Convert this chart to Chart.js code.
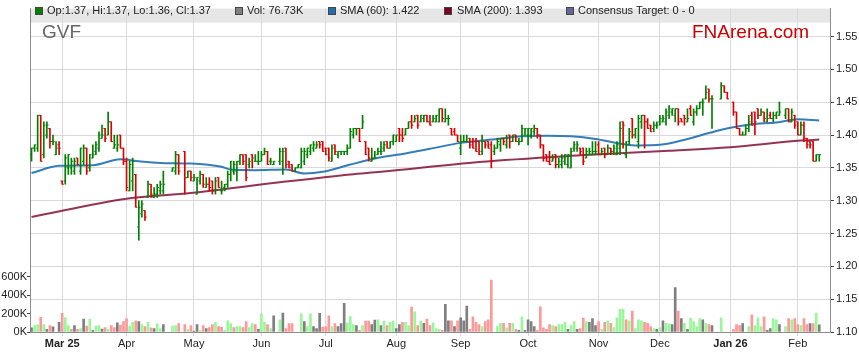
<!DOCTYPE html>
<html>
<head>
<meta charset="utf-8">
<script src="https://cdn.jsdelivr.net/npm/chart.js@4.4.1/dist/chart.umd.min.js"></script>
<style>
  body { margin: 0; background: #fff; }
  #wrap { position: relative; width: 859px; height: 363px; font-family: "Liberation Sans", Arial, sans-serif; }
  #chart { position: absolute; left: 0; top: 0; }
  .lg { position: absolute; top: 4.7px; font-size: 11px; line-height: 11px; color: #222; white-space: nowrap; }
  .box { position: absolute; top: 7px; width: 6px; height: 6px; border: 1px solid #444; }
  .big { position: absolute; top: 22px; font-size: 19px; line-height: 19px; white-space: nowrap; }
</style>
</head>
<body>
<div id="wrap">
  <canvas id="chart" width="859" height="363"></canvas>
  <div class="box" style="left:35px;background:#008000"></div><div class="lg" style="left:47px">Op:1.37, Hi:1.37, Lo:1.36, Cl:1.37</div>
  <div class="box" style="left:235px;background:#808080"></div><div class="lg" style="left:247px">Vol: 76.73K</div>
  <div class="box" style="left:328px;background:#1f6fb0"></div><div class="lg" style="left:340px">SMA (60): 1.422</div>
  <div class="box" style="left:444px;background:#800028"></div><div class="lg" style="left:457px">SMA (200): 1.393</div>
  <div class="box" style="left:566px;background:#666699"></div><div class="lg" style="left:578px">Consensus Target: 0 - 0</div>
  <div class="big" style="left:42px;color:#666">GVF</div>
  <div class="big" style="left:692px;color:#cc0000">FNArena.com</div>
</div>
<script>
const FONT = '"Liberation Sans", Arial, sans-serif';

// one slot per weekday, 17 Feb 2025 .. 16 Feb 2026 (holidays stay as empty slots)
const dates = [];
for (let d = new Date(Date.UTC(2025, 1, 17)); dates.length < 261; d.setUTCDate(d.getUTCDate() + 1)) {
    const wd = d.getUTCDay();
    if (wd !== 0 && wd !== 6) dates.push(d.toISOString().slice(0, 10));
}

const monthStarts = ['2025-03-03', '2025-04-01', '2025-05-01', '2025-06-02', '2025-07-01', '2025-08-01',
    '2025-09-01', '2025-10-01', '2025-11-03', '2025-12-01', '2026-01-01', '2026-02-02'];
const monthLabels = ['Mar 25', 'Apr', 'May', 'Jun', 'Jul', 'Aug', 'Sep', 'Oct', 'Nov', 'Dec', 'Jan 26', 'Feb'];

const priceTicks = [1.10, 1.15, 1.20, 1.25, 1.30, 1.35, 1.40, 1.45, 1.50, 1.55];
const volTicks = [0, 200000, 400000, 600000];

// daily OHLC (null = market closed)
const open = [
    1.37, 1.38, 1.38, 1.43, 1.37, 1.40, 1.41, 1.39, 1.37, 1.385,
    1.33, 1.33, 1.35, 1.35, 1.345, 1.365, 1.345, 1.36, 1.38, 1.35,
    1.365, 1.375, 1.38, 1.395, 1.41, 1.40, 1.42, 1.38, 1.38, 1.40,
    1.38, 1.36, 1.315, 1.33, 1.34, 1.26, 1.28, 1.285, 1.305, 1.325,
    1.305, 1.31, 1.315, 1.315, null, null, 1.345, 1.345, 1.37, null,
    1.375, 1.335, 1.345, 1.33, 1.31, 1.33, 1.34, 1.32, 1.325, 1.33,
    1.315, 1.335, 1.315, 1.32, 1.325, 1.34, 1.345, 1.345, 1.36, 1.37,
    1.37, 1.355, 1.37, 1.36, 1.36, 1.36, 1.37, 1.375, 1.36, 1.355,
    null, 1.36, 1.36, 1.38, 1.36, 1.355, 1.345, 1.35, 1.35, 1.36,
    1.37, 1.375, 1.38, 1.38, 1.39, 1.39, 1.38, 1.38, 1.36, 1.385,
    1.37, 1.375, 1.375, 1.375, 1.38, 1.40, 1.41, 1.41, 1.41, 1.39,
    1.38, 1.36, 1.365, 1.37, 1.375, 1.38, 1.39, 1.38, 1.39, 1.39,
    1.41, 1.40, 1.40, 1.41, 1.42, 1.42, 1.43, 1.42, 1.425, 1.43,
    1.42, 1.42, 1.42, 1.42, 1.44, 1.42, 1.425, 1.41, 1.405, 1.40,
    1.38, 1.39, 1.39, 1.395, 1.39, 1.39, 1.39, 1.375, 1.39, 1.39,
    1.385, 1.375, 1.38, 1.385, 1.395, 1.385, 1.40, 1.39, 1.40, 1.39,
    1.39, 1.40, 1.40, 1.40, 1.405, 1.41, 1.40, 1.385, 1.37, 1.36,
    1.36, 1.37, 1.355, 1.355, 1.36, 1.355, 1.35, 1.38, 1.38, 1.38,
    1.38, 1.365, 1.37, 1.37, 1.375, 1.385, 1.37, 1.38, 1.37, 1.38,
    1.375, 1.37, 1.38, 1.42, 1.37, 1.39, 1.425, 1.40, 1.39, 1.42,
    1.43, 1.42, 1.415, 1.41, 1.415, 1.42, 1.42, 1.42, 1.43, 1.435,
    1.43, 1.44, 1.425, 1.43, 1.42, 1.44, 1.42, 1.435, 1.44, 1.45,
    1.455, 1.47, 1.455, null, null, 1.455, 1.475, 1.465, null, 1.45,
    1.435, 1.41, 1.40, 1.40, 1.41, 1.43, 1.435, 1.44, 1.43, 1.435,
    1.42, 1.43, 1.425, 1.43, 1.43, null, 1.43, 1.44, 1.42, 1.43,
    1.42, 1.40, 1.415, 1.395, 1.39, 1.39, 1.36, 1.37
];
const high = [
    1.38, 1.385, 1.43, 1.43, 1.42, 1.42, 1.41, 1.40, 1.39, 1.39,
    1.33, 1.37, 1.37, 1.365, 1.365, 1.365, 1.38, 1.385, 1.38, 1.37,
    1.385, 1.39, 1.405, 1.415, 1.41, 1.435, 1.42, 1.40, 1.40, 1.40,
    1.38, 1.365, 1.36, 1.365, 1.34, 1.30, 1.30, 1.285, 1.33, 1.325,
    1.32, 1.325, 1.33, 1.345, null, null, 1.35, 1.375, 1.37, null,
    1.375, 1.345, 1.345, 1.34, 1.335, 1.345, 1.34, 1.335, 1.335, 1.33,
    1.335, 1.335, 1.33, 1.325, 1.345, 1.36, 1.36, 1.36, 1.37, 1.37,
    1.37, 1.365, 1.37, 1.37, 1.375, 1.375, 1.38, 1.375, 1.365, 1.36,
    null, 1.38, 1.38, 1.38, 1.36, 1.355, 1.35, 1.355, 1.38, 1.38,
    1.38, 1.385, 1.39, 1.39, 1.39, 1.39, 1.38, 1.38, 1.385, 1.385,
    1.375, 1.375, 1.375, 1.385, 1.41, 1.41, 1.41, 1.41, 1.43, 1.39,
    1.38, 1.38, 1.375, 1.38, 1.39, 1.39, 1.39, 1.39, 1.40, 1.40,
    1.41, 1.41, 1.41, 1.42, 1.43, 1.43, 1.43, 1.43, 1.43, 1.43,
    1.43, 1.43, 1.43, 1.44, 1.44, 1.44, 1.43, 1.41, 1.41, 1.40,
    1.40, 1.40, 1.40, 1.395, 1.395, 1.395, 1.39, 1.40, 1.39, 1.39,
    1.39, 1.385, 1.395, 1.395, 1.395, 1.40, 1.40, 1.40, 1.40, 1.395,
    1.415, 1.41, 1.41, 1.41, 1.415, 1.41, 1.40, 1.385, 1.37, 1.375,
    1.37, 1.37, 1.365, 1.37, 1.37, 1.37, 1.38, 1.39, 1.39, 1.38,
    1.38, 1.38, 1.38, 1.39, 1.39, 1.39, 1.38, 1.38, 1.385, 1.38,
    1.385, 1.39, 1.42, 1.42, 1.39, 1.41, 1.425, 1.41, 1.43, 1.43,
    1.43, 1.425, 1.415, 1.42, 1.42, 1.43, 1.43, 1.44, 1.445, 1.44,
    1.44, 1.44, 1.425, 1.43, 1.44, 1.445, 1.44, 1.445, 1.45, 1.455,
    1.475, 1.47, 1.46, null, null, 1.48, 1.475, 1.465, null, 1.45,
    1.435, 1.41, 1.405, 1.415, 1.43, 1.435, 1.435, 1.44, 1.44, 1.435,
    1.44, 1.435, 1.435, 1.435, 1.45, null, 1.44, 1.44, 1.44, 1.43,
    1.42, 1.42, 1.42, 1.395, 1.39, 1.39, 1.37, 1.37
];
const low = [
    1.36, 1.375, 1.375, 1.36, 1.365, 1.395, 1.38, 1.385, 1.37, 1.37,
    1.325, 1.325, 1.34, 1.34, 1.34, 1.355, 1.34, 1.355, 1.34, 1.345,
    1.365, 1.37, 1.375, 1.395, 1.39, 1.40, 1.39, 1.38, 1.375, 1.38,
    1.355, 1.315, 1.315, 1.315, 1.29, 1.24, 1.275, 1.27, 1.305, 1.305,
    1.305, 1.305, 1.31, 1.31, null, null, 1.345, 1.34, 1.34, null,
    1.31, 1.335, 1.33, 1.33, 1.31, 1.325, 1.32, 1.32, 1.315, 1.31,
    1.31, 1.32, 1.31, 1.315, 1.32, 1.33, 1.34, 1.33, 1.355, 1.355,
    1.33, 1.35, 1.35, 1.36, 1.355, 1.36, 1.37, 1.355, 1.355, 1.355,
    null, 1.355, 1.34, 1.35, 1.35, 1.345, 1.345, 1.35, 1.35, 1.355,
    1.365, 1.37, 1.375, 1.38, 1.38, 1.375, 1.37, 1.36, 1.36, 1.37,
    1.365, 1.37, 1.37, 1.37, 1.38, 1.395, 1.40, 1.39, 1.41, 1.37,
    1.36, 1.36, 1.365, 1.37, 1.37, 1.375, 1.38, 1.38, 1.385, 1.39,
    1.39, 1.39, 1.40, 1.41, 1.41, 1.42, 1.41, 1.42, 1.42, 1.42,
    1.415, 1.42, 1.42, 1.42, 1.42, 1.42, 1.415, 1.40, 1.40, 1.39,
    1.37, 1.39, 1.39, 1.38, 1.38, 1.375, 1.37, 1.37, 1.38, 1.38,
    1.35, 1.37, 1.38, 1.375, 1.385, 1.38, 1.38, 1.39, 1.39, 1.385,
    1.39, 1.40, 1.385, 1.395, 1.40, 1.395, 1.38, 1.36, 1.36, 1.355,
    1.36, 1.35, 1.35, 1.35, 1.355, 1.35, 1.35, 1.375, 1.375, 1.37,
    1.355, 1.365, 1.37, 1.37, 1.37, 1.37, 1.37, 1.365, 1.37, 1.37,
    1.37, 1.37, 1.37, 1.38, 1.365, 1.385, 1.395, 1.395, 1.38, 1.41,
    1.38, 1.41, 1.405, 1.405, 1.41, 1.415, 1.42, 1.415, 1.425, 1.43,
    1.42, 1.415, 1.42, 1.415, 1.42, 1.43, 1.415, 1.43, 1.44, 1.43,
    1.455, 1.45, 1.41, null, null, 1.455, 1.465, 1.455, null, 1.43,
    1.41, 1.40, 1.40, 1.40, 1.405, 1.415, 1.40, 1.425, 1.43, 1.42,
    1.42, 1.425, 1.42, 1.425, 1.43, null, 1.425, 1.42, 1.42, 1.41,
    1.40, 1.40, 1.39, 1.38, 1.38, 1.36, 1.36, 1.36
];
const close = [
    1.38, 1.385, 1.43, 1.36, 1.415, 1.415, 1.39, 1.39, 1.38, 1.38,
    1.325, 1.365, 1.37, 1.36, 1.36, 1.355, 1.38, 1.38, 1.345, 1.37,
    1.37, 1.385, 1.40, 1.40, 1.395, 1.42, 1.39, 1.385, 1.385, 1.38,
    1.36, 1.32, 1.355, 1.36, 1.29, 1.29, 1.295, 1.275, 1.325, 1.31,
    1.31, 1.32, 1.325, 1.325, null, null, 1.35, 1.37, 1.345, null,
    1.335, 1.345, 1.335, 1.335, 1.335, 1.34, 1.325, 1.325, 1.32, 1.315,
    1.33, 1.32, 1.315, 1.325, 1.34, 1.36, 1.355, 1.36, 1.37, 1.36,
    1.335, 1.36, 1.365, 1.36, 1.36, 1.37, 1.375, 1.355, 1.36, 1.36,
    null, 1.375, 1.375, 1.355, 1.35, 1.345, 1.35, 1.355, 1.375, 1.375,
    1.38, 1.385, 1.385, 1.385, 1.385, 1.375, 1.37, 1.365, 1.38, 1.375,
    1.375, 1.375, 1.375, 1.38, 1.405, 1.41, 1.41, 1.39, 1.42, 1.37,
    1.365, 1.365, 1.365, 1.375, 1.375, 1.385, 1.38, 1.39, 1.40, 1.40,
    1.40, 1.395, 1.41, 1.42, 1.415, 1.425, 1.415, 1.43, 1.43, 1.42,
    1.415, 1.425, 1.43, 1.44, 1.425, 1.425, 1.425, 1.40, 1.40, 1.39,
    1.39, 1.39, 1.39, 1.385, 1.38, 1.375, 1.37, 1.39, 1.385, 1.38,
    1.36, 1.38, 1.39, 1.395, 1.39, 1.395, 1.39, 1.40, 1.39, 1.39,
    1.41, 1.41, 1.41, 1.41, 1.41, 1.40, 1.385, 1.365, 1.36, 1.355,
    1.365, 1.355, 1.36, 1.365, 1.37, 1.37, 1.375, 1.385, 1.385, 1.375,
    1.36, 1.375, 1.375, 1.375, 1.375, 1.37, 1.375, 1.37, 1.38, 1.375,
    1.38, 1.385, 1.41, 1.415, 1.385, 1.405, 1.40, 1.41, 1.425, 1.43,
    1.42, 1.41, 1.405, 1.415, 1.415, 1.425, 1.425, 1.435, 1.44, 1.44,
    1.44, 1.42, 1.42, 1.425, 1.425, 1.43, 1.435, 1.44, 1.45, 1.45,
    1.465, 1.455, 1.455, null, null, 1.475, 1.465, 1.455, null, 1.435,
    1.41, 1.40, 1.40, 1.41, 1.42, 1.415, 1.42, 1.43, 1.435, 1.425,
    1.425, 1.425, 1.43, 1.435, 1.435, null, 1.44, 1.42, 1.435, 1.415,
    1.40, 1.415, 1.395, 1.385, 1.385, 1.36, 1.37, 1.37
];
const volume = [
    45000, 70000, 80000, 160000, 80000, 28000, 70000, 56000, null, 105000,
    203000, 157000, 70000, 28000, 70000, 28000, 38000, 140000, 63000, 140000,
    18000, 63000, 70000, 32000, 49000, 32000, 70000, 49000, 100000, 74000,
    112000, 144000, 63000, 105000, 122000, 112000, 80000, 60000, 105000, 45000,
    38000, 88000, 38000, 80000, null, null, 63000, 70000, 91000, null,
    80000, 28000, 70000, 10000, 80000, 21000, 70000, 38000, 49000, 80000,
    105000, 60000, 52000, 18000, 122000, 91000, 49000, 60000, 60000, 49000,
    112000, 49000, 91000, 80000, 28000, 196000, 105000, 80000, 38000, 175000,
    null, 133000, 206000, 38000, 91000, 91000, null, null, 196000, 112000,
    60000, 196000, 60000, 38000, 203000, 52000, 60000, 175000, 60000, 91000,
    60000, 91000, 311000, 100000, 168000, 80000, 70000, 18000, 70000, 119000,
    119000, 80000, 130000, 133000, 70000, 119000, 70000, 105000, 119000, 38000,
    80000, 105000, 105000, 70000, 270000, 217000, 70000, 119000, 95000, 140000,
    70000, 98000, 38000, 28000, 18000, 300000, 122000, 122000, 60000, 122000,
    154000, 122000, 280000, 28000, 164000, 105000, 80000, 60000, 112000, 133000,
    563000, null, 60000, 95000, 95000, 45000, 95000, 95000, 28000, 18000,
    164000, 18000, 133000, 112000, 60000, 18000, 273000, 45000, 28000, 80000,
    70000, 60000, 80000, 80000, 105000, 28000, 70000, 112000, 28000, 38000,
    150000, 112000, 105000, 144000, 70000, 112000, 28000, 105000, 122000, 95000,
    49000, 154000, 245000, 245000, 133000, 122000, 227000, 38000, 133000, 122000,
    105000, 95000, 60000, 38000, 28000, 49000, 122000, 95000, 88000, 80000,
    480000, 227000, 144000, 95000, 28000, 150000, 112000, 60000, 144000, 133000,
    95000, 80000, 70000, null, null, 154000, null, null, null, 28000,
    80000, 70000, 91000, null, 60000, 186000, 70000, 154000, 60000, 164000,
    18000, 38000, 144000, 133000, 80000, null, 60000, 144000, 133000, 144000,
    80000, 70000, 144000, 80000, 91000, 91000, 206000, 77000
];

// moving averages at sample slots
const sma60Slots = [0, 9, 20, 29, 35, 42, 52, 62, 65, 73, 83, 89, 95, 104, 114, 122, 130, 140, 152, 160,
    168, 176, 184, 192, 198, 205, 214, 221, 228, 235, 243, 250, 257];
const sma60Vals = [1.342, 1.353, 1.354, 1.363, 1.360, 1.3575, 1.3565, 1.3515, 1.3475, 1.3465, 1.3475, 1.3415,
    1.344, 1.355, 1.366, 1.372, 1.379, 1.388, 1.394, 1.398, 1.399, 1.398, 1.394, 1.387, 1.384, 1.385,
    1.394, 1.403, 1.411, 1.4165, 1.419, 1.424, 1.422];
const sma200Slots = [0, 31, 52, 81, 104, 114, 146, 179, 208, 228, 251, 257];
const sma200Vals = [1.275, 1.303, 1.3115, 1.328, 1.340, 1.344, 1.359, 1.369, 1.376, 1.3815, 1.3915, 1.393];

const UP = '#008000', DOWN = '#dd0000';
const barColors = close.map((c, i) => (c != null && c < open[i]) ? DOWN : UP);
const volColors = volume.map((v, i) => {
    let p = i - 1;
    while (p >= 0 && close[p] == null) p--;
    if (p < 0 || close[i] == null || close[i] === close[p]) return '#7f7f7f';
    return close[i] > close[p] ? '#99f799' : '#ff9898';
});

function monthIdx(i) { return monthStarts.indexOf(dates[i]); }

const bandPlugin = {
    id: 'band',
    beforeDraw(chart) {
        const a = chart.chartArea;
        const ctx = chart.ctx;
        ctx.save();
        ctx.fillStyle = '#e6e6e6';
        ctx.fillRect(a.left, a.top, a.right - a.left, 14);
        ctx.restore();
    }
};

const tickDataset = (data, rot) => ({
    type: 'line', data, yAxisID: 'y', showLine: false,
    pointStyle: 'dash', pointRotation: rot, pointRadius: 1.7,
    pointBorderWidth: 1, pointBorderColor: barColors, pointBackgroundColor: barColors,
    pointHoverRadius: 0, pointHitRadius: 0
});

new Chart(document.getElementById('chart'), {
    type: 'bar',
    data: {
        labels: dates,
        datasets: [
            tickDataset(open, 180),
            tickDataset(close, 0),
            {
                type: 'bar', yAxisID: 'y', grouped: false, barThickness: 1,
                data: high.map((h, i) => h == null ? null : [low[i], h]),
                backgroundColor: barColors
            },
            {
                type: 'line', yAxisID: 'y',
                data: sma60Slots.map((s, i) => ({ x: dates[s], y: sma60Vals[i] })),
                borderColor: 'rgba(31,111,176,0.9)', borderWidth: 2, pointRadius: 0,
                cubicInterpolationMode: 'monotone'
            },
            {
                type: 'line', yAxisID: 'y',
                data: sma200Slots.map((s, i) => ({ x: dates[s], y: sma200Vals[i] })),
                borderColor: 'rgba(128,16,56,0.85)', borderWidth: 2, pointRadius: 0,
                cubicInterpolationMode: 'monotone'
            },
            {
                type: 'bar', yAxisID: 'yv', grouped: false, barThickness: 2,
                data: volume, backgroundColor: volColors
            }
        ]
    },
    options: {
        responsive: false,
        animation: false,
        devicePixelRatio: 1,
        layout: { padding: { top: 3, left: 0, right: 0, bottom: 0 } },
        plugins: { legend: { display: false }, tooltip: { enabled: false } },
        events: [],
        scales: {
            x: {
                type: 'category', offset: true,
                grid: {
                    offset: false, tickLength: 4, lineWidth: 1,
                    color: c => monthIdx(c.index) >= 0 ? '#d9d9d9' : 'rgba(0,0,0,0)'
                },
                border: { color: '#8c8c8c' },
                ticks: {
                    autoSkip: false, maxRotation: 0, minRotation: 0, padding: 1, color: '#222',
                    font: c => ({ family: FONT, size: 11, weight: (monthIdx(c.index) >= 0 && monthLabels[monthIdx(c.index)].indexOf(' ') > 0) ? 'bold' : 'normal' }),
                    callback: (v, i) => monthIdx(i) >= 0 ? monthLabels[monthIdx(i)] : ''
                },
                afterFit: s => { s.height = 31; }
            },
            y: {
                position: 'right', min: 1.10, max: 1.5925,
                afterBuildTicks: s => { s.ticks = priceTicks.map(v => ({ value: v })); },
                grid: { color: '#d9d9d9', tickLength: 4, tickColor: '#444' },
                border: { color: '#8c8c8c' },
                ticks: { color: '#222', padding: 2, font: { family: FONT, size: 11 }, callback: v => v.toFixed(2) },
                afterFit: s => { s.width = 29; }
            },
            yv: {
                position: 'left', min: 0, max: 3500000,
                afterBuildTicks: s => { s.ticks = volTicks.map(v => ({ value: v })); },
                grid: { drawOnChartArea: false, tickLength: 3, tickColor: '#444' },
                border: { color: '#8c8c8c' },
                ticks: { color: '#222', padding: 0, font: { family: FONT, size: 11 }, callback: v => (v / 1000) + 'K' },
                afterFit: s => { s.width = 30; }
            }
        }
    },
    plugins: [bandPlugin]
});
</script>
</body>
</html>
